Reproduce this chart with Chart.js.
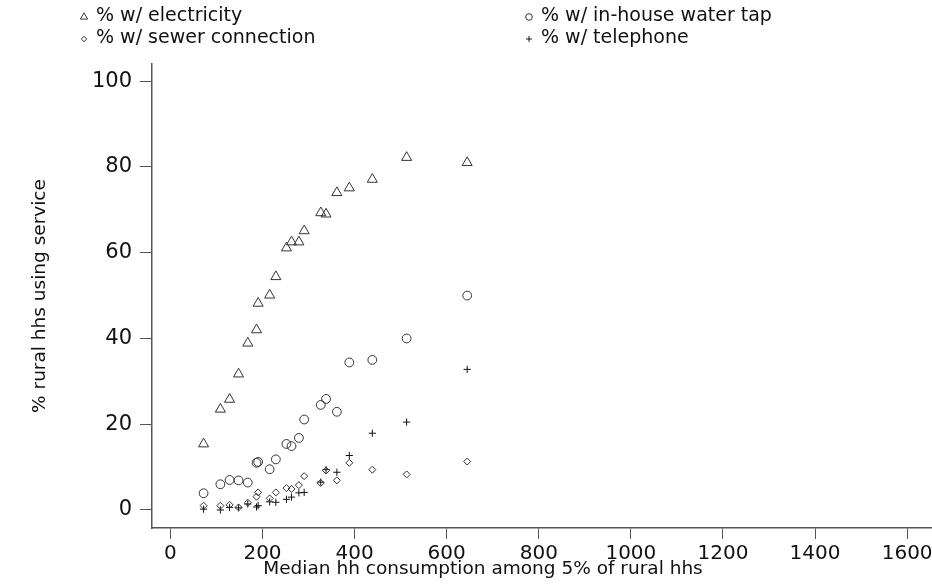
<!DOCTYPE html>
<html>
<head>
<meta charset="utf-8">
<script src="https://cdn.jsdelivr.net/npm/chart.js@4.4.1/dist/chart.umd.min.js"></script>
<style>
  html, body { margin: 0; padding: 0; background: #fff; }
  #wrap { width: 932px; height: 586px; position: relative; }
</style>
</head>
<body>
<div id="wrap"><canvas id="chart" width="932" height="586"></canvas></div>
<script>
// Median hh consumption among 5% of rural hhs (one value per region)
const consumption = [72, 108.5, 128.5, 148, 168, 187, 190.5, 215.5, 229, 252, 263, 279, 290.5, 326.5, 338, 361.5, 388.5, 438.5, 513, 644.5];

// % of rural hhs using each service
const electricity = [15.4, 23.5, 25.8, 31.7, 38.9, 42.0, 48.2, 50.1, 54.4, 61.1, 62.5, 62.5, 65.1, 69.3, 69.0, 74.0, 75.1, 77.1, 82.2, 81.0];
const waterTap = [3.9, 6.0, 7.0, 6.9, 6.4, 11.0, 11.2, 9.5, 11.8, 15.4, 14.9, 16.8, 21.1, 24.5, 25.9, 22.9, 34.4, 35.0, 40.0, 50.0];
const sewer = [1.0, 1.0, 1.2, 0.6, 1.7, 3.1, 4.1, 2.7, 4.1, 5.1, 4.9, 5.8, 7.9, 6.3, 9.2, 6.9, 11.0, 9.4, 8.3, 11.3];
const telephone = [0.2, 0.0, 0.6, 0.5, 1.4, 0.7, 1.0, 1.9, 1.8, 2.5, 3.0, 4.0, 4.1, 6.5, 9.4, 8.8, 12.7, 17.9, 20.5, 32.8];

// Tick labels
const xTicks = [0, 200, 400, 600, 800, 1000, 1200, 1400, 1600];
const yTicks = [0, 20, 40, 60, 80, 100];

const xTitle = 'Median hh consumption among 5% of rural hhs';
const yTitle = '% rural hhs using service';

const FONT = "'DejaVu Sans', sans-serif";
const INK = '#333';

function toPoints(ys) {
    return consumption.map((x, i) => ({ x: x, y: ys[i] }));
}

function series(label, ys, style, radius, legendRadius, color) {
    return {
        label: label,
        data: toPoints(ys),
        pointStyle: style,
        pointRadius: radius,
        pointHoverRadius: radius,
        pointBorderWidth: 1,
        borderColor: color,
        backgroundColor: 'rgba(0,0,0,0)',
        legendRadius: legendRadius
    };
}

// Two-column legend on top, Stata style
const legendPlugin = {
    id: 'stataLegend',
    afterDraw(chart) {
        const ctx = chart.ctx;
        const slots = [
            { x: 84, y: 16 }, { x: 529, y: 16 },
            { x: 84, y: 38 }, { x: 529, y: 38 }
        ];
        ctx.save();
        ctx.font = '19px ' + FONT;
        ctx.textBaseline = 'middle';
        ctx.textAlign = 'left';
        chart.data.datasets.forEach((ds, i) => {
            const s = slots[i];
            ctx.strokeStyle = ds.borderColor;
            ctx.fillStyle = 'rgba(0,0,0,0)';
            ctx.lineWidth = 1;
            Chart.helpers.drawPoint(ctx, {
                pointStyle: ds.pointStyle, radius: ds.legendRadius, rotation: 0, borderWidth: 1
            }, s.x, s.y + 1);
            ctx.fillStyle = '#111';
            ctx.fillText(ds.label, s.x + 12, s.y);
        });
        ctx.restore();
    }
};

// Axis titles placed where the original puts them
const titlePlugin = {
    id: 'axisTitles',
    afterDraw(chart) {
        const ctx = chart.ctx;
        ctx.save();
        ctx.fillStyle = '#111';
        ctx.font = '18.5px ' + FONT;
        ctx.textAlign = 'center';
        ctx.textBaseline = 'middle';
        ctx.fillText(xTitle, 483, 569);
        ctx.translate(40, 296);
        ctx.rotate(-Math.PI / 2);
        ctx.fillText(yTitle, 0, 0);
        ctx.restore();
    }
};

const ctx = document.getElementById('chart').getContext('2d');
new Chart(ctx, {
    type: 'scatter',
    data: {
        datasets: [
            series('% w/ electricity', electricity, 'triangle', 5.8, 4.2, INK),
            series('% w/ in-house water tap', waterTap, 'circle', 4.4, 3.3, INK),
            series('% w/ sewer connection', sewer, 'rectRot', 3.5, 2.7, INK),
            series('% w/ telephone', telephone, 'cross', 3.6, 2.9, '#111')
        ]
    },
    options: {
        responsive: false,
        animation: false,
        layout: { autoPadding: false, padding: { top: 64, left: 0, right: 0, bottom: 0 } },
        plugins: {
            legend: { display: false },
            tooltip: { enabled: false }
        },
        scales: {
            x: {
                type: 'linear',
                min: -40,
                max: 1654,
                afterBuildTicks: (scale) => { scale.ticks = xTicks.map(v => ({ value: v })); },
                afterFit: (scale) => {
                    scale.height = 58;
                    scale.paddingLeft = 0;
                    scale.paddingRight = 0;
                },
                ticks: {
                    autoSkip: false,
                    maxRotation: 0,
                    padding: 3,
                    color: '#111',
                    font: { family: FONT, size: 20 },
                    callback: (v) => String(v)
                },
                grid: { drawOnChartArea: false, drawTicks: true, tickLength: 11, color: '#555', lineWidth: 1 },
                border: { display: true, color: '#555', width: 1.5 }
            },
            y: {
                type: 'linear',
                min: -4.2,
                max: 104,
                afterBuildTicks: (scale) => { scale.ticks = yTicks.map(v => ({ value: v })); },
                afterFit: (scale) => {
                    scale.width = 152;
                    scale.paddingTop = 0;
                    scale.paddingBottom = 0;
                },
                ticks: {
                    autoSkip: false,
                    padding: 8,
                    color: '#111',
                    font: { family: FONT, size: 21 },
                    callback: (v) => String(v)
                },
                grid: { drawOnChartArea: false, drawTicks: true, tickLength: 12, color: '#555', lineWidth: 1 },
                border: { display: true, color: '#555', width: 1.5 }
            }
        }
    },
    plugins: [legendPlugin, titlePlugin]
});
</script>
</body>
</html>
